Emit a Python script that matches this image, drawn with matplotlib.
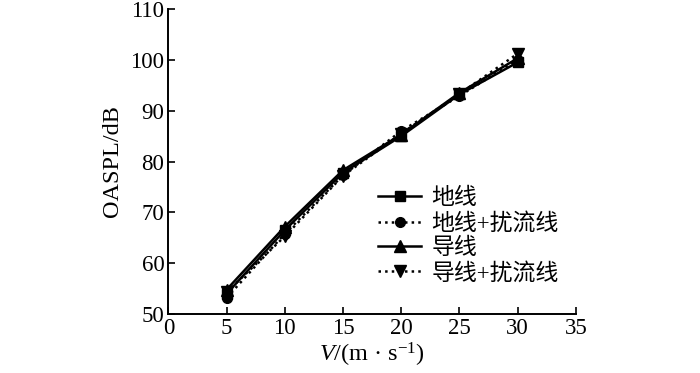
import matplotlib
matplotlib.use('Agg')
import matplotlib.pyplot as plt

plt.rcParams['font.family'] = ['Liberation Serif', 'Noto Sans CJK SC']
plt.rcParams['mathtext.fontset'] = 'custom'
plt.rcParams['mathtext.rm'] = 'Liberation Serif'
plt.rcParams['mathtext.it'] = 'Liberation Serif:italic'

# wind speed (m/s)
speed = [5, 10, 15, 20, 25, 30]

# OASPL values
ground = [54.0, 66.5, 77.8, 85.0, 93.2, 99.5]
ground_spoiler = [53.2, 65.8, 77.3, 86.0, 92.9, 100.0]
conductor = [54.8, 67.2, 78.3, 85.3, 93.5, 100.3]
conductor_spoiler = [54.3, 65.3, 77.2, 85.5, 93.3, 101.2]

labels = ['地线', '地线+扰流线', '导线', '导线+扰流线']

fig = plt.figure(figsize=(7, 3.73), dpi=100)
ax = fig.add_axes([0.2406, 0.158, 0.582, 0.818])

ax.plot(speed, ground, '-', color='black', marker='s', ms=6.5, lw=1.8, label=labels[0])
ax.plot(speed, ground_spoiler, ':', color='black', marker='o', ms=7, lw=1.8, label=labels[1])
ax.plot(speed, conductor, '-', color='black', marker='^', ms=8, lw=1.8, label=labels[2])
ax.plot(speed, conductor_spoiler, ':', color='black', marker='v', ms=8, lw=1.8, label=labels[3])

ax.set_xlim(0, 35)
ax.set_ylim(50, 110)
ax.set_xticks(range(0, 36, 5))
ax.set_yticks(range(50, 111, 10))

ax.spines['top'].set_visible(False)
ax.spines['right'].set_visible(False)
ax.spines['left'].set_linewidth(1.4)
ax.spines['bottom'].set_linewidth(1.4)
ax.tick_params(direction='in', length=5, width=1.2, labelsize=16.5, pad=3)

ax.set_ylabel('OASPL/dB', fontsize=17.5, labelpad=5)
ax.set_xlabel(r'$\mathit{V}$/(m · s$^{-1}$)', fontsize=17.5, labelpad=1)

ax.legend(loc='center left', bbox_to_anchor=(0.514, 0.255), frameon=False,
          fontsize=16.5, handlelength=1.9, handletextpad=0.45, labelspacing=0.15,
          borderaxespad=0, borderpad=0)

fig.savefig('out.png', dpi=100)
